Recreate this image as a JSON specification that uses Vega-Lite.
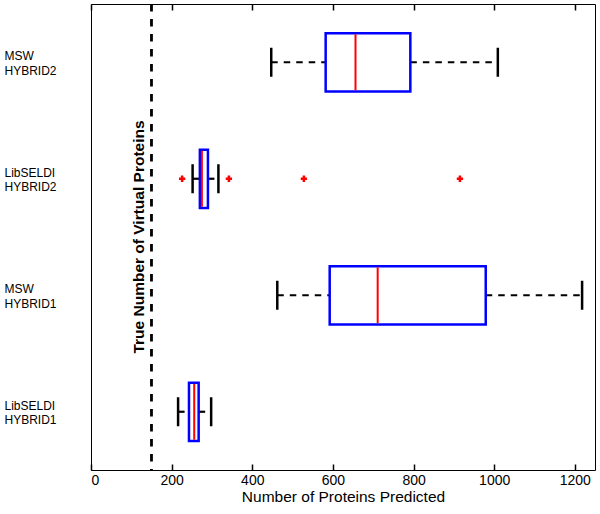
{
  "$schema": "https://vega.github.io/schema/vega-lite/v6.json",
  "width": 504,
  "height": 466,
  "autosize": {"type": "none"},
  "padding": {"left": 91, "top": 4, "right": 5, "bottom": 44},
  "background": "white",
  "config": {"view": {"stroke": "black", "strokeWidth": 1}, "font": "Liberation Sans"},
  "datasets": {
    "boxes": [
      {"group": "MSW|HYBRID2", "lo": 447, "q1": 582, "med": 656, "q3": 792, "hi": 1009},
      {"group": "LibSELDI|HYBRID2", "lo": 252, "q1": 270, "med": 275, "q3": 290, "hi": 316},
      {"group": "MSW|HYBRID1", "lo": 462, "q1": 592, "med": 711, "q3": 979, "hi": 1218},
      {"group": "LibSELDI|HYBRID1", "lo": 216, "q1": 243, "med": 256, "q3": 267, "hi": 298}
    ],
    "outliers": [
      {"group": "LibSELDI|HYBRID2", "value": 226},
      {"group": "LibSELDI|HYBRID2", "value": 342},
      {"group": "LibSELDI|HYBRID2", "value": 528},
      {"group": "LibSELDI|HYBRID2", "value": 915}
    ],
    "truth": [{"v": 150, "label": "True Number of Virtual Proteins"}]
  },
  "resolve": {"axis": {"x": "independent"}},
  "layer": [
    {
      "data": {"name": "boxes"},
      "mark": {"type": "rule", "color": "black", "strokeWidth": 2.2, "strokeDash": [6.5, 6]},
      "encoding": {
        "x": {"field": "lo", "type": "quantitative", "scale": {"domain": [0, 1250], "nice": false, "zero": false},
          "axis": {"orient": "bottom", "offset": -6, "values": [0, 200, 400, 600, 800, 1000, 1200], "format": "d", "zindex": 2, "ticks": true, "tickSize": 6, "tickWidth": 1.5, "tickColor": "#000000", "tickOpacity": 1, "domain": false, "grid": false, "labelFontSize": 14, "labelColor": "black", "labelPadding": 3, "title": "Number of Proteins Predicted", "titleFontSize": 15.5, "titleFontWeight": "normal", "titleColor": "black", "titlePadding": 2}},
        "x2": {"field": "q1"},
        "y": {"field": "group", "type": "nominal", "sort": ["MSW|HYBRID2", "LibSELDI|HYBRID2", "MSW|HYBRID1", "LibSELDI|HYBRID1"],
          "scale": {"domain": ["MSW|HYBRID2", "LibSELDI|HYBRID2", "MSW|HYBRID1", "LibSELDI|HYBRID1"], "paddingInner": 0, "paddingOuter": 0},
          "axis": {"title": null, "ticks": false, "domain": false, "labelAlign": "left", "labelPadding": 87, "labelBaseline": "middle", "labelOffset": -6, "labelFontSize": 12, "labelLineHeight": 14.5, "labelColor": "black", "labelExpr": "split(datum.label, '|')"}}
      }
    },
    {
      "data": {"name": "boxes"},
      "mark": {"type": "rule", "color": "black", "strokeWidth": 2.2, "strokeDash": [6.5, 6]},
      "encoding": {
        "x": {"field": "q3", "type": "quantitative",
          "axis": {"orient": "top", "offset": -6, "values": [0, 200, 400, 600, 800, 1000, 1200], "zindex": 2, "ticks": true, "tickSize": 6, "tickWidth": 1.5, "tickColor": "#000000", "tickOpacity": 1, "domain": false, "grid": false, "labels": false, "title": null}},
        "x2": {"field": "hi"},
        "y": {"field": "group", "type": "nominal"}
      }
    },
    {
      "data": {"name": "boxes"},
      "mark": {"type": "tick", "color": "black", "orient": "vertical", "size": 29, "thickness": 2.5, "opacity": 1},
      "encoding": {
        "x": {"field": "lo", "type": "quantitative", "axis": null},
        "y": {"field": "group", "type": "nominal"}
      }
    },
    {
      "data": {"name": "boxes"},
      "mark": {"type": "tick", "color": "black", "orient": "vertical", "size": 29, "thickness": 2.5, "opacity": 1},
      "encoding": {
        "x": {"field": "hi", "type": "quantitative", "axis": null},
        "y": {"field": "group", "type": "nominal"}
      }
    },
    {
      "data": {"name": "boxes"},
      "mark": {"type": "bar", "fill": "white", "fillOpacity": 0, "stroke": "#0000ff", "strokeWidth": 2.5, "height": {"band": 0.5}},
      "encoding": {
        "x": {"field": "q1", "type": "quantitative", "axis": null},
        "x2": {"field": "q3"},
        "y": {"field": "group", "type": "nominal"}
      }
    },
    {
      "data": {"name": "boxes"},
      "mark": {"type": "tick", "color": "#ff0000", "orient": "vertical", "size": 56, "thickness": 2, "opacity": 1},
      "encoding": {
        "x": {"field": "med", "type": "quantitative", "axis": null},
        "y": {"field": "group", "type": "nominal"}
      }
    },
    {
      "data": {"name": "outliers"},
      "mark": {"type": "point", "shape": "cross", "filled": true, "color": "#ff0000", "size": 40, "opacity": 1},
      "encoding": {
        "x": {"field": "value", "type": "quantitative", "axis": null},
        "y": {"field": "group", "type": "nominal"}
      }
    },
    {
      "data": {"name": "truth"},
      "mark": {"type": "rule", "color": "black", "strokeWidth": 2.8, "strokeDash": [7.5, 7.5]},
      "encoding": {
        "x": {"field": "v", "type": "quantitative", "axis": null}
      }
    },
    {
      "data": {"name": "truth"},
      "mark": {"type": "text", "angle": 270, "align": "center", "baseline": "bottom", "fontSize": 15.5, "fontWeight": "bold", "color": "black", "dy": -4, "y": {"expr": "height/2"}},
      "encoding": {
        "x": {"field": "v", "type": "quantitative", "axis": null},
        "text": {"field": "label"}
      }
    }
  ]
}
